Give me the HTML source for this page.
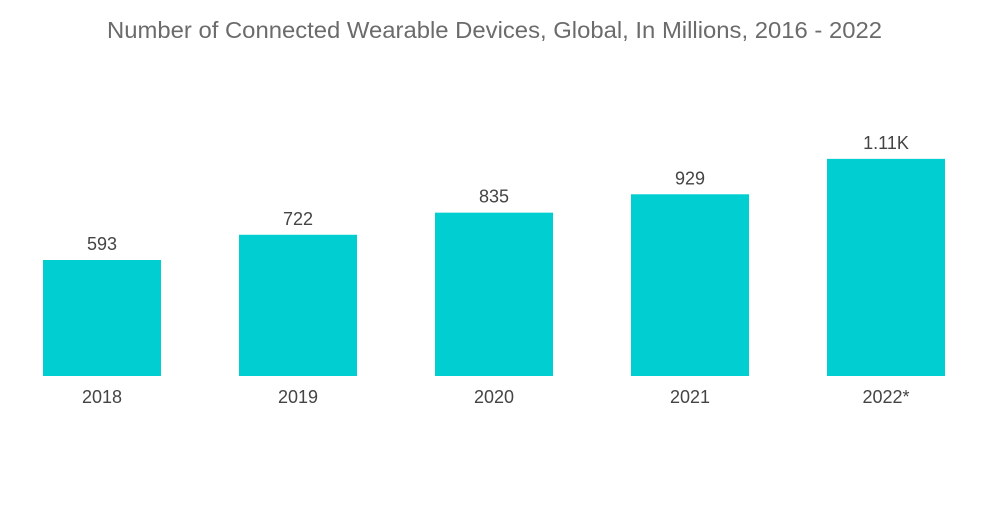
<!DOCTYPE html>
<html><head><meta charset="utf-8">
<style>
body{margin:0;background:#fff;width:1000px;height:504px;overflow:hidden;font-family:"Liberation Sans",sans-serif;}
</style></head>
<body>
<svg width="1000" height="504">
<text x="107" y="38" font-size="23" fill="#6b6b6b" textLength="775" lengthAdjust="spacingAndGlyphs">Number of Connected Wearable Devices, Global, In Millions, 2016 - 2022</text>
<g id="bars"></g>
</svg>
<script>
const categories=["2018","2019","2020","2021","2022*"];
const values=[593,722,835,929,1110];
const valueLabels=["593","722","835","929","1.11K"];
const baseY=376, scale=116/593;
function y(v){return baseY-v*scale;}
function x(i){return 43+i*196;}
const g=document.getElementById('bars');
const ns="http://www.w3.org/2000/svg";
categories.forEach((c,i)=>{
  const r=document.createElementNS(ns,'rect');
  r.setAttribute('x',x(i));r.setAttribute('y',y(values[i]));
  r.setAttribute('width',118);r.setAttribute('height',baseY-y(values[i]));
  r.setAttribute('fill','#00ced1');
  
  
  g.appendChild(r);
  const t=document.createElementNS(ns,'text');
  t.setAttribute('x',x(i)+59);t.setAttribute('y',y(values[i])-10);
  t.setAttribute('text-anchor','middle');t.setAttribute('font-size','18');t.setAttribute('fill','#444');
  t.textContent=valueLabels[i];
  
  
  g.appendChild(t);
  const l=document.createElementNS(ns,'text');
  l.setAttribute('x',x(i)+59);l.setAttribute('y',403);
  l.setAttribute('text-anchor','middle');l.setAttribute('font-size','18');l.setAttribute('fill','#444');
  l.textContent=c;
  
  
  g.appendChild(l);
});
</script>
</body></html>
